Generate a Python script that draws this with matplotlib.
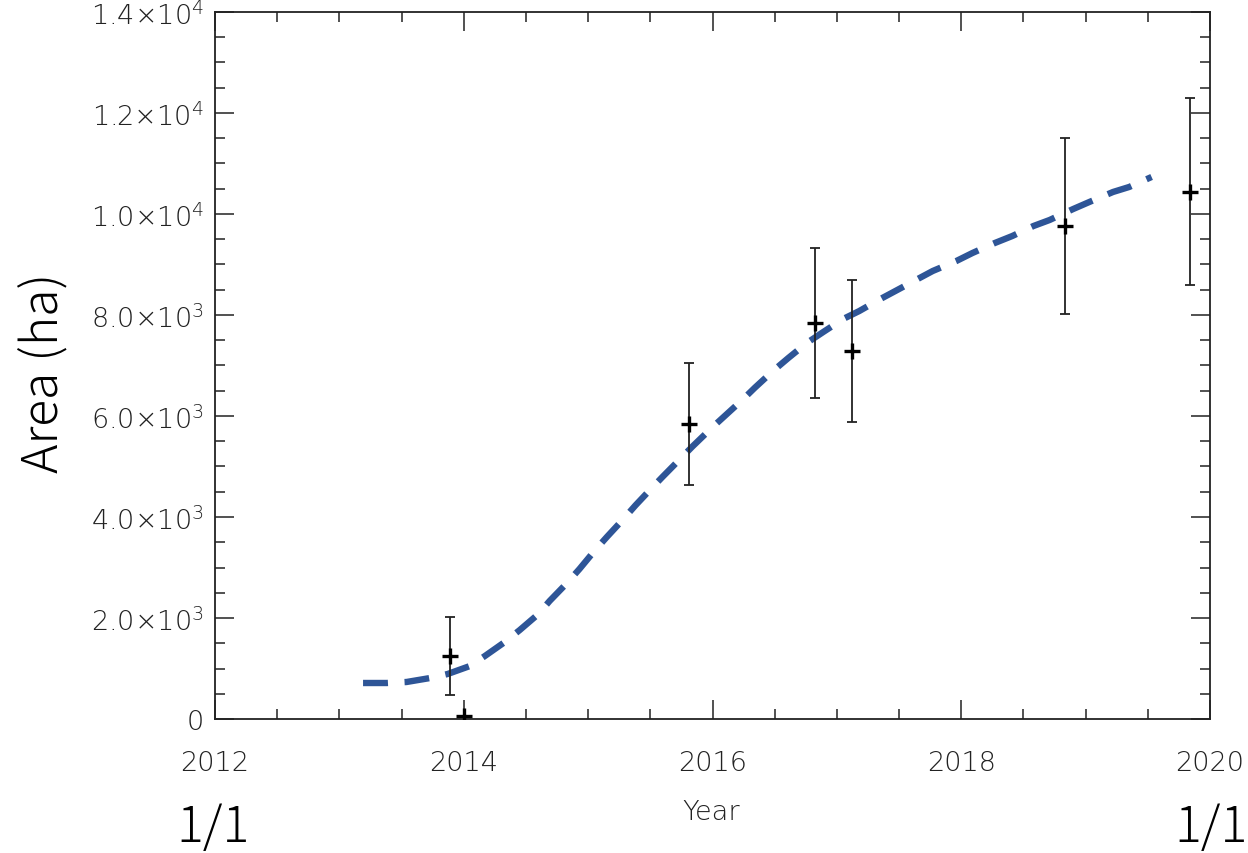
import matplotlib.pyplot as plt
from matplotlib.ticker import MultipleLocator, FixedLocator, FixedFormatter

# observed areas with 1-sigma errors
obs_year = [2013.89, 2014.00, 2015.81, 2016.82, 2017.12, 2018.83, 2019.84]
obs_area = [1250, 60, 5840, 7840, 7290, 9760, 10440]
obs_err = [770, 0, 1210, 1490, 1400, 1750, 1850]

# fitted growth curve
fit_year = [2013.19, 2013.38, 2013.54, 2013.73, 2013.87, 2014.05, 2014.17,
            2014.33, 2014.45, 2014.60, 2014.69, 2014.83, 2014.93, 2015.05,
            2015.15, 2015.28, 2015.38, 2015.51, 2015.60, 2015.74, 2015.84,
            2016.00, 2016.08, 2016.24, 2016.34, 2016.49, 2016.61, 2016.76,
            2016.89, 2017.05, 2017.18, 2017.35, 2017.47, 2017.65, 2017.77,
            2017.96, 2018.09, 2018.27, 2018.41, 2018.58, 2018.71, 2018.90,
            2019.03, 2019.22, 2019.35, 2019.53]
fit_area = [713, 713, 733, 812, 891, 1050, 1248,
            1525, 1762, 2079, 2337, 2693, 2970, 3327,
            3604, 3950, 4230, 4570, 4800, 5150, 5400,
            5780, 5960, 6320, 6560, 6900, 7150, 7450,
            7663, 7921, 8079, 8317, 8475, 8713, 8871,
            9069, 9228, 9426, 9564, 9762, 9881, 10099,
            10238, 10436, 10535, 10733]

x_ticks = [2012, 2014, 2016, 2018, 2020]
y_ticks = [0, 2000, 4000, 6000, 8000, 10000, 12000, 14000]
y_tick_labels = ['0', r'2.0$\times$10$^{3}$', r'4.0$\times$10$^{3}$',
                 r'6.0$\times$10$^{3}$', r'8.0$\times$10$^{3}$',
                 r'1.0$\times$10$^{4}$', r'1.2$\times$10$^{4}$',
                 r'1.4$\times$10$^{4}$']

plt.rcParams['font.family'] = ['DejaVu Sans']
plt.rcParams['font.weight'] = 'light'
plt.rcParams['mathtext.default'] = 'regular'

fig = plt.figure(figsize=(12.48, 8.54), dpi=100)
ax = fig.add_axes([0.1723, 0.1569, 0.7973, 0.8279])

ax.plot(fit_year, fit_area, color='#2e5597', lw=4.6, ls=(0, (3.9, 2.6)),
        zorder=2)
ax.errorbar(obs_year, obs_area, yerr=obs_err, fmt='none', ecolor='#222222',
            elinewidth=1.3, capsize=3.6, capthick=1.3, zorder=3)
ax.plot(obs_year, obs_area, '+', color='black', ms=11, mew=2.4, zorder=4)

ax.set_xlim(2012, 2020)
ax.set_ylim(0, 14000)

ax.xaxis.set_major_locator(FixedLocator(x_ticks))
ax.xaxis.set_minor_locator(MultipleLocator(0.5))
ax.yaxis.set_major_locator(FixedLocator(y_ticks))
ax.yaxis.set_major_formatter(FixedFormatter(y_tick_labels))
ax.yaxis.set_minor_locator(MultipleLocator(500))

ax.tick_params(which='both', direction='in', top=True, right=True,
               color='#222222', width=1.1)
ax.tick_params(which='major', length=14)
ax.tick_params(which='minor', length=7)
ax.tick_params(axis='x', which='major', pad=22, labelsize=19.5,
               labelcolor='#222222')
ax.tick_params(axis='y', which='major', pad=8, labelsize=19.5,
               labelcolor='#222222')
for s in ax.spines.values():
    s.set_linewidth(1.3)
    s.set_color('#222222')

fig.text(0.570, 0.049, 'Year', ha='center', va='center', fontsize=19.5,
         color='#222222')

big = dict(family='Noto Sans CJK JP', fontweight='light', fontsize=36)
fig.text(0.036, 0.563, 'Area (ha)', rotation=90, ha='center', va='center',
         **big)
fig.text(0.171, 0.030, '1/1', ha='center', va='center', **big)
fig.text(0.970, 0.030, '1/1', ha='center', va='center', **big)
fig.text(-0.006, 0.139, ')', ha='center', va='center', **big)

fig.savefig('out.png', dpi=100)
